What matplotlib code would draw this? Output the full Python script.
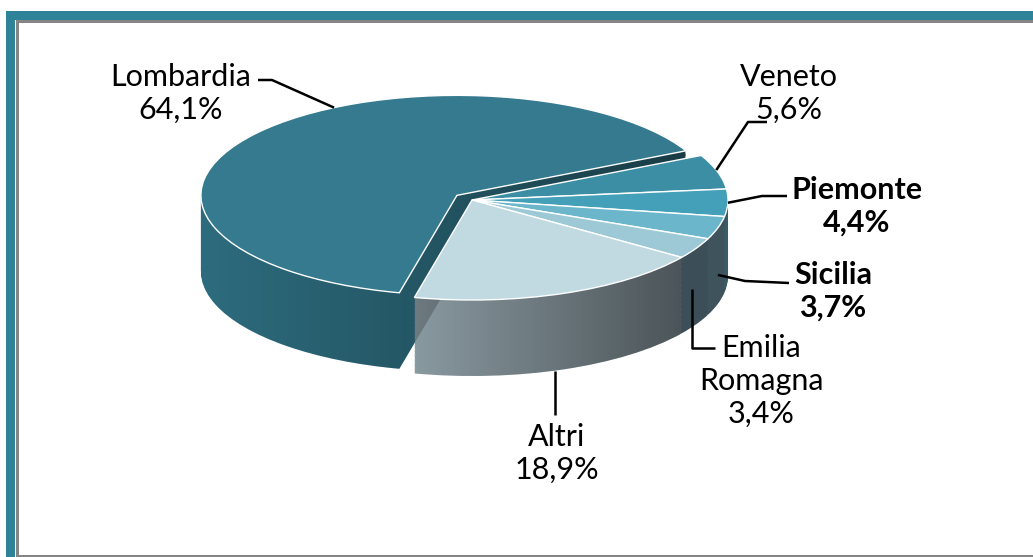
import matplotlib.pyplot as plt
import matplotlib.colors as mcolors
from matplotlib.patches import Rectangle, PathPatch
from matplotlib.path import Path
import numpy as np

# data
regions = ['Lombardia', 'Veneto', 'Piemonte', 'Sicilia', 'Emilia\nRomagna', 'Altri']
shares = [64.1, 5.6, 4.4, 3.7, 3.4, 18.9]
share_labels = ['64,1%', '5,6%', '4,4%', '3,7%', '3,4%', '18,9%']

top_colors = ['#357a8e', '#3b8ea4', '#44a0b8', '#6bb6ca', '#9dc9d6', '#c1dae2']
wall_colors = ['#2d6c7e', '#2f6b7c', '#3a5a66', '#3f535c', '#3c4e57', '#8999a0']
shaded = [True, False, False, False, False, True]
explode = [0.075, 0, 0, 0, 0, 0]

W, H = 1033, 557
fig = plt.figure(figsize=(W / 100, H / 100), dpi=100)
fig.patch.set_facecolor('white')

# frame (teal band + grey line, cropped screenshot look)
fig.patches.append(Rectangle((6 / W, 0), 9 / W, 1 - 11 / H, transform=fig.transFigure,
                             facecolor='#2e8399', edgecolor='none'))
fig.patches.append(Rectangle((6 / W, 1 - 20 / H), 1, 9 / H, transform=fig.transFigure,
                             facecolor='#2e8399', edgecolor='none'))
fig.patches.append(Rectangle((16 / W, 1 - 23 / H), 1, 3 / H, transform=fig.transFigure,
                             facecolor='#858585', edgecolor='none'))
fig.patches.append(Rectangle((16 / W, 0), 3 / W, 1 - 20 / H, transform=fig.transFigure,
                             facecolor='#858585', edgecolor='none'))
fig.patches.append(Rectangle((16 / W, 0), 1, 2 / H, transform=fig.transFigure,
                             facecolor='#858585', edgecolor='none'))

ax = fig.add_axes([0, 0, 1, 1])

# pixel scale of the tilted disc
cx_px, cy_px = 472, 200
rx_px, ry_px = 256, 100
depth = 0.76
n_layers = 60
start = -103

layer_wedges = [[] for _ in shares]
for k in range(n_layers, 0, -1):
    z = -depth * k / n_layers
    wedges, _ = ax.pie(shares, explode=explode, colors=wall_colors, startangle=start,
                       counterclock=False, center=(0, z),
                       wedgeprops=dict(edgecolor='none', linewidth=0))
    for i, w in enumerate(wedges):
        w.set_zorder(1)
        layer_wedges[i].append(w)

top, _ = ax.pie(shares, explode=explode, colors=top_colors, startangle=start,
                counterclock=False, center=(0, 0),
                wedgeprops=dict(edgecolor='white', linewidth=1.0))
for w in top:
    w.set_zorder(5)

ax.set_aspect('auto')
ax.axis('off')

# horizontal shading on the two big side walls
grad = np.linspace(0, 1, 256).reshape(1, -1)
shade = mcolors.LinearSegmentedColormap.from_list(
    'shade', [(0, 0, 0, 0.0), (0, 0, 0, 0.45)])
for i, ws in enumerate(layer_wedges):
    if not shaded[i]:
        continue
    paths = [w.get_path() for w in ws]
    verts = np.vstack([p.vertices for p in paths])
    x0, x1 = verts[:, 0].min(), verts[:, 0].max()
    y0, y1 = verts[:, 1].min(), verts[:, 1].max()
    clip = PathPatch(Path.make_compound_path(*paths), transform=ax.transData,
                     facecolor='none', edgecolor='none')
    ax.add_patch(clip)
    im = ax.imshow(grad, cmap=shade, extent=(x0, x1, y0, y1), aspect='auto',
                   zorder=2, interpolation='bilinear')
    im.set_clip_path(clip)

ax.set_xlim(-cx_px / rx_px, (W - cx_px) / rx_px)
ax.set_ylim(-(H - cy_px) / ry_px, cy_px / ry_px)

# labels (positions in figure pixels)
to_data = (ax.transAxes - ax.transData).transform


def px(x, y):
    return to_data((x / W, 1 - y / H))


def rim(i, frac=0.5, drop=0.0):
    w = top[i]
    a = np.deg2rad(w.theta1 + (w.theta2 - w.theta1) * frac)
    cx, cy = w.center
    return np.array([cx + w.r * np.cos(a), cy + w.r * np.sin(a) - drop])


font = ['Lato', 'DejaVu Sans']
fs = 22
# text centre, weight, leader points from the label side, anchor (fraction, drop), vertical end
label_spec = [
    ((181, 93), 'normal', [(258, 80), (272, 80)], (0.40, 0.0), False),
    ((789, 93), 'normal', [(767, 122), (748, 122)], (0.55, 0.0), False),
    ((857, 206), 'bold', [(787, 196), (762, 196)], (0.5, 0.0), False),
    ((833, 291), 'bold', [(789, 283), (745, 281)], (0.5, 0.62), False),
    ((761, 381), 'normal', [(715, 348)], (0.35, 0.5), True),
    ((557, 453), 'normal', [], (0.47, 1.0), True),
]
for i, (pos, weight, pts, (frac, drop), vertical) in enumerate(label_spec):
    ax.text(*px(*pos), regions[i] + '\n' + share_labels[i], ha='center', va='center',
            fontsize=fs, fontweight=weight, family=font, linespacing=1.2,
            color='black', zorder=10)
    anchor = rim(i, frac, depth * drop)
    line = [px(*p) for p in pts]
    if vertical:
        if line:
            line.append(np.array([anchor[0], line[-1][1]]))
        else:
            line.append(np.array([anchor[0], px(0, 415)[1]]))
    line.append(anchor)
    xs, ys = zip(*line)
    ax.plot(xs, ys, color='black', lw=1.8, zorder=9, solid_capstyle='butt')

fig.savefig('out.png', dpi=100)
